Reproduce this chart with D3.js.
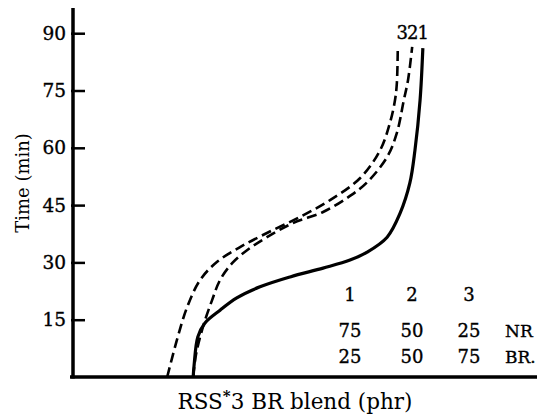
<!doctype html>
<html>
<head>
<meta charset="utf-8">
<script src="https://d3js.org/d3.v7.min.js"></script>
<style>
  body { margin: 0; background: #fff; }
  text { font-family: "DejaVu Serif", "Liberation Serif", serif; fill: #000; }
  .heavy { stroke: #000; stroke-width: 0.35; }
</style>
</head>
<body>
<svg width="544" height="416"></svg>
<script>
// time ticks (min)
var yTicks = [15, 30, 45, 60, 75, 90];

// curves: x is position along the blend axis (arbitrary units 0-100), t is time (min)
var curve1X = [25.9, 26.1, 26.9, 28.4, 31.7, 35.3, 40.3, 46.8, 53.9, 59.7, 63.4, 67.7, 70.5, 72.6, 73.7, 74.8, 75.4];
var curve1T = [0, 3.1, 10.5, 14.1, 17.5, 20.7, 23.6, 26.2, 28.5, 30.6, 32.7, 36.6, 42.9, 50.8, 59.4, 72.5, 86.1];

var curve2X = [25.9, 26.5, 28.0, 30.0, 31.7, 34.3, 37.5, 41.8, 47.4, 53.9, 59.7, 63.4, 67.7, 69.8, 71.3, 72.2, 73.1];
var curve2T = [0, 5.8, 13.1, 20.2, 25.4, 29.8, 33.2, 36.6, 40.3, 43.2, 47.4, 51.0, 57.6, 63.9, 72.5, 77.7, 86.4];

var curve3X = [20.3, 22.4, 24.6, 27.4, 31.0, 36.0, 41.8, 48.9, 55.4, 61.9, 66.2, 68.3, 69.4, 69.8, 70.0];
var curve3T = [0, 9.7, 18.3, 25.4, 30.1, 34.0, 37.7, 41.9, 46.3, 52.1, 59.4, 66.5, 72.5, 77.0, 86.4];

// blend table
var blendIds = ["1", "2", "3"];
var nrParts = ["75", "50", "25"];
var brParts = ["25", "50", "75"];

var svg = d3.select("svg");

var x = d3.scaleLinear().domain([0, 100]).range([73, 537]);
var y = d3.scaleLinear().domain([0, 96.6]).range([377, 8]);

function pts(xs, ts) {
    return xs.map(function(d, i) { return [d, ts[i]]; });
}

var line = d3.line()
    .x(function(d) { return x(d[0]); })
    .y(function(d) { return y(d[1]); })
    .curve(d3.curveCatmullRom.alpha(0.5));

// y axis
var yAxis = svg.append("g")
    .attr("transform", "translate(" + x(0) + ",0)")
    .call(d3.axisLeft(y).tickValues(yTicks).tickSize(-12).tickSizeOuter(0).tickPadding(7));
yAxis.select(".domain").attr("stroke-width", 3.5).attr("d", "M0," + (y(0) + 1.5) + "V" + y.range()[1]);
yAxis.selectAll(".tick line").attr("stroke-width", 2.5).attr("x1", -2);
yAxis.selectAll(".tick text").attr("font-size", 18.5).attr("class", "heavy");

// x axis (no ticks)
var xAxis = svg.append("g")
    .attr("transform", "translate(0," + y(0) + ")")
    .call(d3.axisBottom(x).tickValues([]).tickSizeOuter(0));
xAxis.select(".domain").attr("stroke-width", 3.5).attr("d", "M" + (x(0) - 3) + ",0H" + x.range()[1]);

// curves
svg.append("path")
    .attr("d", line(pts(curve1X, curve1T)))
    .attr("fill", "none").attr("stroke", "#000").attr("stroke-width", 3.2);
svg.append("path")
    .attr("d", line(pts(curve2X, curve2T)))
    .attr("fill", "none").attr("stroke", "#000").attr("stroke-width", 2.6)
    .attr("stroke-dasharray", "10,5");
svg.append("path")
    .attr("d", line(pts(curve3X, curve3T)))
    .attr("fill", "none").attr("stroke", "#000").attr("stroke-width", 2.6)
    .attr("stroke-dasharray", "10,5");

// curve labels
svg.append("text")
    .attr("x", x(curve2X[curve2X.length - 1]))
    .attr("y", y(curve2T[curve2T.length - 1]) - 8)
    .attr("text-anchor", "middle")
    .attr("font-size", 18)
    .attr("letter-spacing", -1)
    .attr("class", "heavy")
    .text("321");

// blend table
var colX = [350, 412, 469];
var rows = [[blendIds, "", 295], [nrParts, "NR", 331], [brParts, "BR.", 357]];
rows.forEach(function(r) {
    r[0].forEach(function(v, i) {
        svg.append("text")
            .attr("x", colX[i]).attr("y", r[2])
            .attr("dy", "0.35em")
            .attr("text-anchor", "middle")
            .attr("font-size", 18)
            .attr("class", "heavy")
            .text(v);
    });
    if (r[1]) {
        svg.append("text")
            .attr("x", 505).attr("y", r[2])
            .attr("dy", "0.35em")
            .attr("font-size", 17)
            .attr("class", "heavy")
            .text(r[1]);
    }
});

// axis titles
svg.append("text")
    .attr("transform", "translate(23,183) rotate(-90)")
    .attr("text-anchor", "middle")
    .attr("dy", "0.35em")
    .attr("font-size", 18)
    .text("Time (min)");

var xt = svg.append("text")
    .attr("x", 295).attr("y", 409)
    .attr("text-anchor", "middle")
    .attr("font-size", 21.5);
xt.append("tspan").text("RSS");
xt.append("tspan").attr("dy", -8).attr("font-size", 15).attr("font-weight", "bold").text("*");
xt.append("tspan").attr("dy", 8).text("3 BR blend (phr)");
</script>
</body>
</html>
